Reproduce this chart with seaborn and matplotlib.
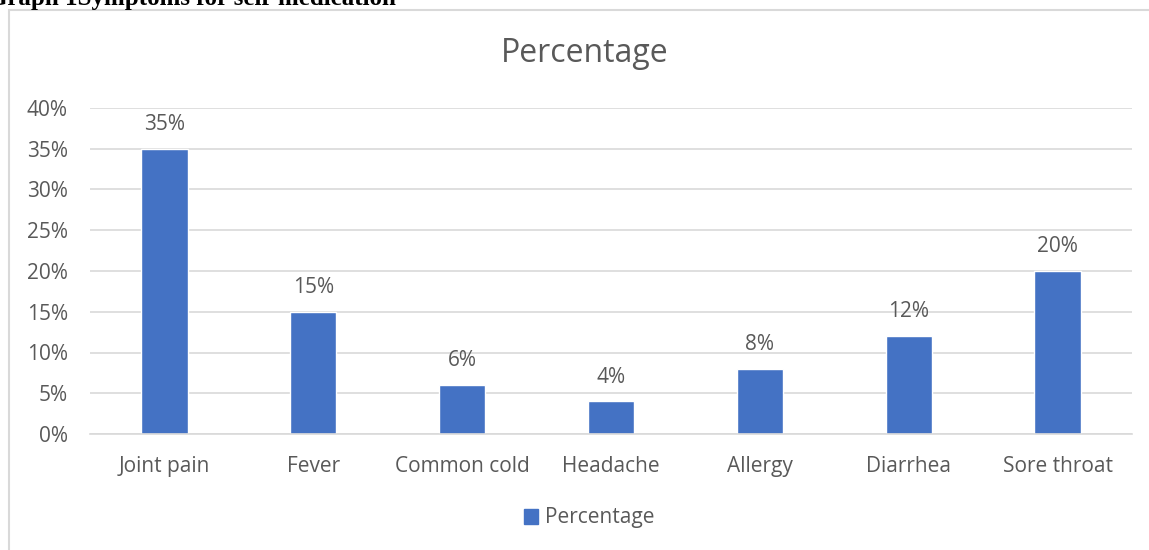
import matplotlib
matplotlib.use("Agg")
import matplotlib.pyplot as plt
import seaborn as sns
from matplotlib.patches import Rectangle, Patch
from matplotlib.ticker import PercentFormatter, MultipleLocator

# Data
symptoms = ["Joint pain", "Fever", "Common cold", "Headache", "Allergy", "Diarrhea", "Sore throat"]
percentages = [0.35, 0.15, 0.06, 0.04, 0.08, 0.12, 0.20]
series_name = "Percentage"
header_text = "Graph 1Symptoms for self-medication"

barColor = "#4472C4"
textColor = "#595959"
gridColor = "#D9D9D9"

sns.set_style("white")
plt.rcParams['font.family'] = ['Open Sans', 'DejaVu Sans']

fig = plt.figure(figsize=(11.49, 5.5), dpi=100)
ax = fig.add_axes([90 / 1149, 1 - 434 / 550, (1132 - 90) / 1149, (434 - 108) / 550])

sns.barplot(x=symptoms, y=percentages, color=barColor, width=0.31, ax=ax, saturation=1)

ax.set_ylim(0, 0.40)
ax.yaxis.set_major_locator(MultipleLocator(0.05))
ax.yaxis.set_major_formatter(PercentFormatter(1.0, decimals=0))
ax.grid(axis="y", color=gridColor, linewidth=1.2)
ax.set_axisbelow(True)
for side in ["top", "right", "left"]:
    ax.spines[side].set_visible(False)
ax.spines["bottom"].set_color(gridColor)
ax.spines["bottom"].set_linewidth(1.2)
ax.tick_params(axis="both", length=0, labelsize=15, colors=textColor)
ax.tick_params(axis="x", pad=16)
ax.tick_params(axis="y", pad=16)
ax.set_xlabel("")
ax.set_ylabel("")

# Data labels
for bar, val in zip(ax.patches, percentages):
    ax.annotate(f"{val * 100:.0f}%", (bar.get_x() + bar.get_width() / 2, bar.get_height()),
                xytext=(0, 10), textcoords="offset points", ha="center", va="bottom",
                fontsize=15, color=textColor)

# Chart title
fig.text(585 / 1149, 1 - 53 / 550, series_name, fontsize=23, color=textColor, ha="center", va="center")

# Legend
handle = Patch(facecolor=barColor, edgecolor=barColor)
fig.legend([handle], [series_name], loc="center", bbox_to_anchor=(589 / 1149, 1 - 518 / 550),
           frameon=False, fontsize=15, labelcolor=textColor, handlelength=0.7, handleheight=0.7,
           handletextpad=0.3)

# Chart border
fig.patches.append(Rectangle((9 / 1149, -0.05), 1.1, 1 - 10 / 550 + 0.05, transform=fig.transFigure,
                             fill=False, edgecolor=gridColor, linewidth=1.5))

# Clipped header text from the document
fig.text(-12 / 1149, 1 - 5 / 550, header_text, fontsize=18, fontweight="bold",
         family=["Liberation Serif", "DejaVu Serif"], va="baseline", ha="left", color="black")

fig.savefig("out.png", dpi=100)
